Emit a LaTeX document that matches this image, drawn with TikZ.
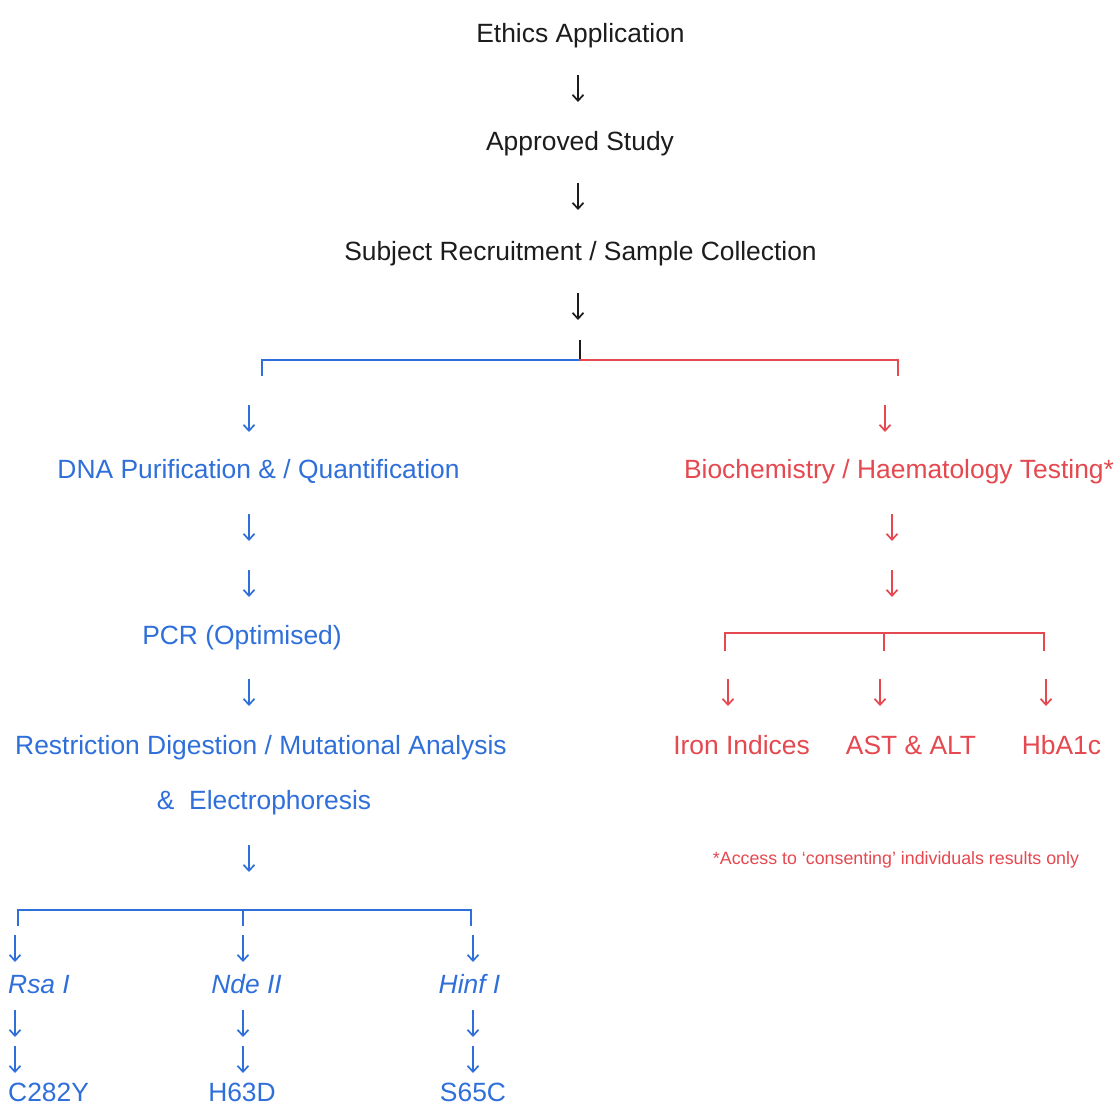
\documentclass[tikz,border=0pt]{standalone}
\usepackage{fontspec}
\setmainfont{Liberation Sans}
\usetikzlibrary{arrows.meta}
\definecolor{flowblue}{HTML}{2F6FDA}
\definecolor{flowred}{HTML}{E5484F}
\definecolor{flowink}{HTML}{1C1C1C}
\newcommand{\mainSize}[0]{\fontsize{26.4}{30}\selectfont}
\newcommand{\noteSize}[0]{\fontsize{17.8}{21}\selectfont}

\begin{document}
\begin{tikzpicture}[x=1pt, y=-1pt]
  \tikzset{stage/.style={font=\mainSize, inner sep=0pt, anchor=base},
           flowarrow/.style={line width=1.7pt, -{Straight Barb[length=6pt,width=11pt]}},
           bracket/.style={line width=2.4pt}}
  \useasboundingbox[fill=white] (0,0) rectangle (1118,1105);
  % common trunk
  \node[stage, text=flowink] (ethics) at (580.5,43) {Ethics Application};
  \node[stage, text=flowink] (approved) at (580,150) {Approved Study};
  \node[stage, text=flowink] (recruit) at (580.5,260) {Subject Recruitment / Sample Collection};
  % DNA branch
  \node[stage, text=flowblue] (dna) at (258.5,478) {DNA Purification \& / Quantification};
  \node[stage, text=flowblue] (pcr) at (242,644) {PCR (Optimised)};
  \node[stage, text=flowblue] (digest) at (261,754) {Restriction Digestion / Mutational Analysis};
  \node[stage, text=flowblue] (electro) at (264,809) {\&\ \ Electrophoresis};
  \node[stage, text=flowblue, anchor=base west] (rsa) at (8,993) {\itshape Rsa I};
  \node[stage, text=flowblue] (nde) at (246.5,993) {\itshape Nde II};
  \node[stage, text=flowblue] (hinf) at (469.5,993) {\itshape Hinf I};
  \node[stage, text=flowblue, anchor=base west] (cy) at (8,1101) {C282Y};
  \node[stage, text=flowblue] (hd) at (242,1101) {H63D};
  \node[stage, text=flowblue] (sc) at (473,1101) {S65C};
  % blood branch
  \node[stage, text=flowred] (biochem) at (899,478) {Biochemistry / Haematology Testing*};
  \node[stage, text=flowred] (iron) at (741.5,754) {Iron Indices};
  \node[stage, text=flowred] (astalt) at (911,754) {AST \& ALT};
  \node[stage, text=flowred] (hba) at (1061.5,754) {HbA1c};
  \node[font=\noteSize, text=flowred, inner sep=0pt, anchor=base] (note) at (896,864)
    {*Access to `consenting' individuals results only};
  % brackets
  \coordinate (splitTop) at (580,340);
  \coordinate (split) at (580,360);
  \coordinate (splitL) at (262,360);
  \coordinate (splitR) at (898,360);
  \draw[bracket, flowink] (splitTop) -- (split);
  \draw[bracket, flowblue] (splitL |- 0,376) -- (splitL) -- (split);
  \draw[bracket, flowred] (split) -- (splitR) -- (splitR |- 0,376);
  \coordinate (testL) at (725,633);
  \coordinate (testM) at (884,633);
  \coordinate (testR) at (1044,633);
  \draw[bracket, flowred] (testL |- 0,651) -- (testL) -- (testR) -- (testR |- 0,651);
  \draw[bracket, flowred] (testM) -- (testM |- 0,651);
  \coordinate (enzL) at (18,910);
  \coordinate (enzM) at (243,910);
  \coordinate (enzR) at (471,910);
  \draw[bracket, flowblue] (enzL |- 0,926) -- (enzL) -- (enzR) -- (enzR |- 0,926);
  \draw[bracket, flowblue] (enzM) -- (enzM |- 0,926);
  % arrows
  \foreach \n/\x/\y/\c in {k1/578/75/flowink, k2/578/183/flowink, k3/578/293/flowink,
      b1/249/405/flowblue, b2/249/514/flowblue, b3/249/570/flowblue, b4/249/679/flowblue,
      b5/249/845/flowblue,
      r1/885/405/flowred, r2/892/514/flowred, r3/892/570/flowred,
      r4/728/679/flowred, r5/880/679/flowred, r6/1046/679/flowred,
      e1/15/935/flowblue, e2/243/935/flowblue, e3/473/935/flowblue,
      e4/15/1010/flowblue, e5/243/1010/flowblue, e6/473/1010/flowblue,
      e7/15/1046/flowblue, e8/243/1046/flowblue, e9/473/1046/flowblue}{
    \coordinate (\n t) at (\x,\y);
    \coordinate (\n b) at (\x,\y+27);
    \draw[flowarrow, \c] (\n t) -- (\n b);
  }
\end{tikzpicture}
\end{document}
